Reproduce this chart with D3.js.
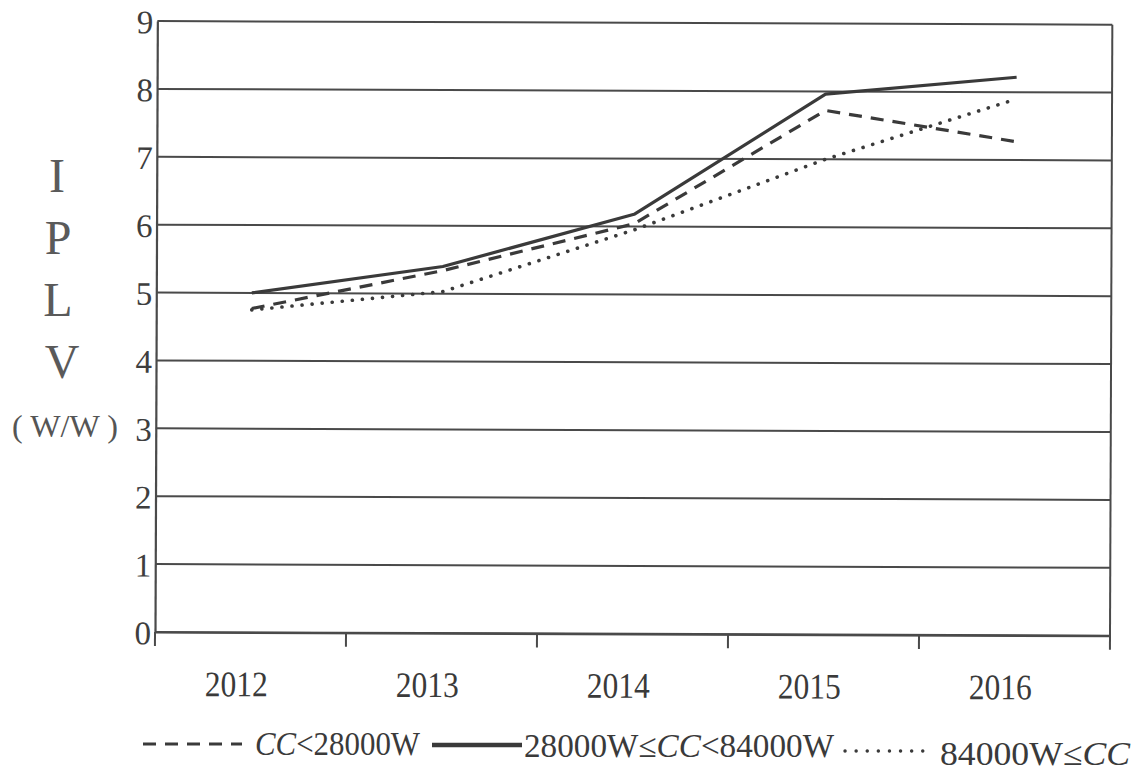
<!DOCTYPE html>
<html>
<head>
<meta charset="utf-8">
<script src="https://cdn.jsdelivr.net/npm/d3@7"></script>
<style>
  html, body { margin: 0; padding: 0; background: #fff; }
  svg { display: block; }
  text { font-family: "Liberation Serif", "DejaVu Serif", serif; }
</style>
</head>
<body>
<svg id="chart" width="1134" height="772"></svg>
<script>
// Years on the x axis
const years = ["2012", "2013", "2014", "2015", "2016"];
// IPLV (W/W) by cooling-capacity class
const smallCC = [4.77, 5.34, 6.04, 7.72, 7.27];   // CC<28000W
const mediumCC = [5.0, 5.40, 6.18, 7.96, 8.22];   // 28000W≤CC<84000W
const largeCC = [4.75, 5.03, 5.95, 7.0, 7.9];     // 84000W≤CC
const yTicks = [0, 1, 2, 3, 4, 5, 6, 7, 8, 9];

const series = [
  { name: "small", values: smallCC, dash: "13,9", cap: "butt", width: 3.2 },
  { name: "medium", values: mediumCC, dash: null, cap: "butt", width: 3.2 },
  { name: "large", values: largeCC, dash: "0.1,10", cap: "round", width: 3.6 }
];

const svg = d3.select("#chart");
const margin = { left: 155, right: 24, top: 21, bottom: 140 };
const W = 1134, H = 772;
const ink = "#3a3a3a";

const x = d3.scaleBand().domain(years).range([margin.left, W - margin.right]);
const y = d3.scaleLinear().domain([0, 9]).range([H - margin.bottom, margin.top]);

// Plot area is drawn with a very slight tilt
const plot = svg.append("g")
  .attr("transform", `rotate(0.22, ${margin.left}, ${H - margin.bottom})`);

// Horizontal gridlines
plot.append("g")
  .selectAll("line")
  .data(yTicks)
  .join("line")
  .attr("x1", margin.left)
  .attr("x2", W - margin.right)
  .attr("y1", d => y(d))
  .attr("y2", d => y(d))
  .attr("stroke", "#4a4a4a")
  .attr("stroke-width", 2);

// Left axis with tick labels
const yAxis = plot.append("g")
  .attr("transform", `translate(${margin.left},0)`)
  .call(d3.axisLeft(y).tickValues(yTicks).tickSize(0).tickPadding(4));
yAxis.select(".domain").attr("stroke", "#4a4a4a").attr("stroke-width", 2.2);
yAxis.selectAll("text")
  .attr("fill", "#3e3e3e")
  .attr("dy", "0.36em")
  .style("font-size", "33px");

// Right border
plot.append("line")
  .attr("x1", W - margin.right).attr("x2", W - margin.right)
  .attr("y1", y(9)).attr("y2", y(0) + 14)
  .attr("stroke", "#4a4a4a").attr("stroke-width", 2);

// Bottom axis with category ticks at band edges
const xAxis = plot.append("g")
  .attr("transform", `translate(0,${y(0)})`)
  .call(d3.axisBottom(x).tickSize(0).tickFormat(""));
xAxis.select(".domain").attr("stroke", "#4a4a4a").attr("stroke-width", 2.2);
plot.append("g")
  .selectAll("line")
  .data(years)
  .join("line")
  .attr("x1", d => x(d))
  .attr("x2", d => x(d))
  .attr("y1", y(0))
  .attr("y2", y(0) + 14)
  .attr("stroke", "#4a4a4a")
  .attr("stroke-width", 2);

// Year labels
plot.append("g")
  .selectAll("text")
  .data(years)
  .join("text")
  .attr("x", d => x(d) + x.bandwidth() / 2 - 14)
  .attr("y", y(0) + 64)
  .attr("text-anchor", "middle")
  .attr("fill", "#3a3a3a")
  .style("font-size", "36px")
  .attr("textLength", 63)
  .attr("lengthAdjust", "spacingAndGlyphs")
  .text(d => d);

// Series lines
const line = d3.line()
  .x((d, i) => x(years[i]) + x.bandwidth() / 2)
  .y(d => y(d));

plot.append("g")
  .selectAll("path")
  .data(series)
  .join("path")
  .attr("d", d => line(d.values))
  .attr("fill", "none")
  .attr("stroke", ink)
  .attr("stroke-width", d => d.width)
  .attr("stroke-linecap", d => d.cap)
  .attr("stroke-linejoin", "round")
  .attr("stroke-dasharray", d => d.dash);

// Y axis title, stacked letters
const titleLetters = ["I", "P", "L", "V"];
const titleX = [57, 58, 58, 62];
svg.append("g")
  .selectAll("text")
  .data(titleLetters)
  .join("text")
  .attr("x", (d, i) => titleX[i])
  .attr("y", (d, i) => 192 + i * 62)
  .attr("text-anchor", "middle")
  .attr("fill", "#5a5a5a")
  .style("font-size", "48px")
  .text(d => d);
svg.append("text")
  .attr("x", 65)
  .attr("y", 437)
  .attr("text-anchor", "middle")
  .attr("fill", "#555")
  .style("font-size", "32px")
  .attr("textLength", 106)
  .attr("lengthAdjust", "spacingAndGlyphs")
  .text("( W/W )");

// Legend
const legend = svg.append("g").style("font-size", "33px").attr("fill", "#3a3a3a");
legend.append("line")
  .attr("x1", 143).attr("x2", 242).attr("y1", 744).attr("y2", 744)
  .attr("stroke", ink).attr("stroke-width", 3).attr("stroke-dasharray", "13,9");
const t1 = legend.append("text").attr("x", 255).attr("y", 755)
  .attr("textLength", 165).attr("lengthAdjust", "spacingAndGlyphs");
t1.append("tspan").style("font-style", "italic").text("CC");
t1.append("tspan").text("<28000W");

legend.append("line")
  .attr("x1", 432).attr("x2", 522).attr("y1", 745).attr("y2", 745)
  .attr("stroke", ink).attr("stroke-width", 4.5);
const t2 = legend.append("text").attr("x", 524).attr("y", 757)
  .attr("textLength", 310).attr("lengthAdjust", "spacingAndGlyphs");
t2.append("tspan").text("28000W≤");
t2.append("tspan").style("font-style", "italic").text("CC");
t2.append("tspan").text("<84000W");

legend.append("line")
  .attr("x1", 845).attr("x2", 930).attr("y1", 751).attr("y2", 751)
  .attr("stroke", ink).attr("stroke-width", 3.4)
  .attr("stroke-linecap", "round").attr("stroke-dasharray", "0.1,11");
const t3 = legend.append("text").attr("x", 940).attr("y", 765)
  .attr("textLength", 190).attr("lengthAdjust", "spacingAndGlyphs");
t3.append("tspan").text("84000W≤");
t3.append("tspan").style("font-style", "italic").text("CC");
</script>
</body>
</html>
